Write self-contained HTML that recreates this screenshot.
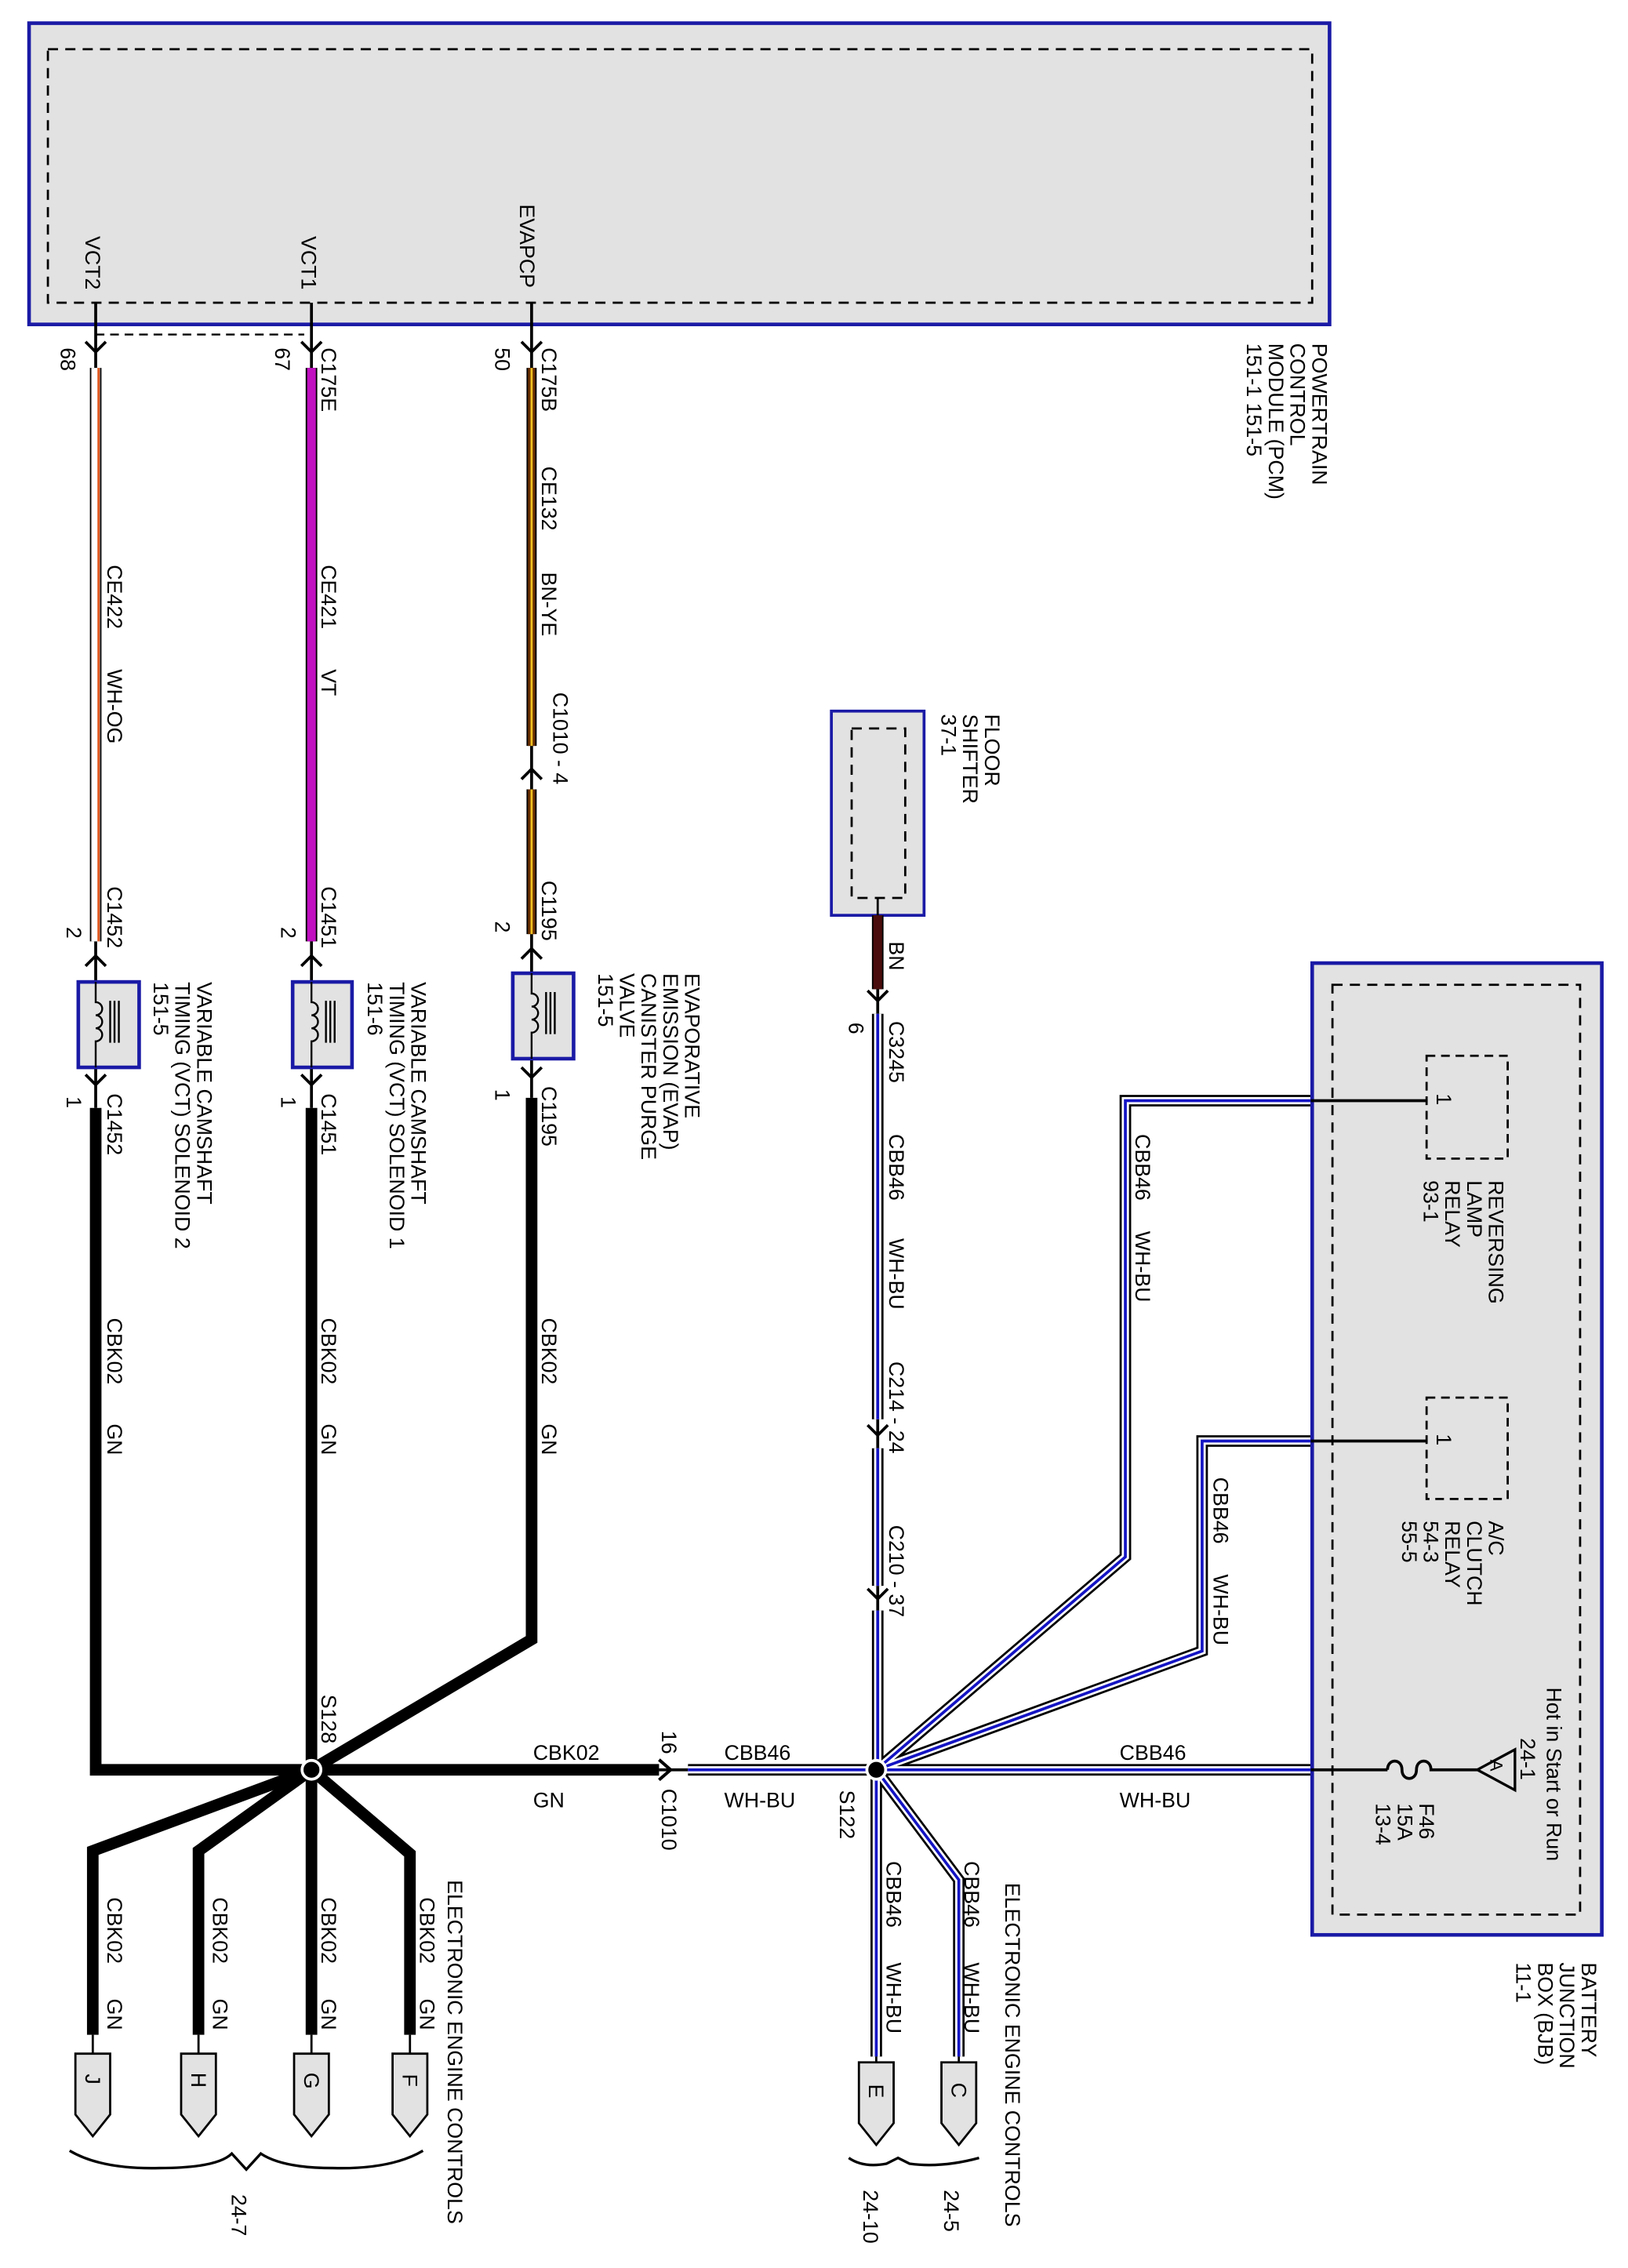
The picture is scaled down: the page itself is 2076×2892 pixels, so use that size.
<!DOCTYPE html>
<html><head><meta charset="utf-8"><style>
html,body{margin:0;padding:0;background:#fff;}
svg{display:block;}
text{font-family:"Liberation Sans",Arial,sans-serif;font-size:14.5px;fill:#000;}
</style></head><body>
<svg width="2076" height="2892" viewBox="0 0 1124 1566" xmlns="http://www.w3.org/2000/svg">
<rect width="1124" height="1566" fill="#fff"/>
<!-- PCM -->
<rect x="20" y="16" width="898" height="208" fill="#e2e2e2" stroke="#1a1aa6" stroke-width="2.5"/>
<rect x="33" y="34" width="873" height="175" fill="none" stroke="#000" stroke-width="1.5" stroke-dasharray="7,5"/>
<g transform="translate(906,237) rotate(90)"><text>POWERTRAIN<tspan x="0" dy="15">CONTROL</tspan><tspan x="0" dy="15">MODULE (PCM)</tspan><tspan x="0" dy="15">151-1    151-5</tspan></text></g>
<text transform="translate(59,163) rotate(90)">VCT2</text>
<text transform="translate(208,163) rotate(90)">VCT1</text>
<text transform="translate(359,141) rotate(90)">EVAPCP</text>
<line x1="66" y1="231" x2="210" y2="231" stroke="#000" stroke-width="1.3" stroke-dasharray="6,4"/>
<g stroke="#000" stroke-width="2" fill="none">
<path d="M66 209V254M215 209V254M367 209V254"/>
<path d="M59 236L66 243L73 236M208 236L215 243L222 236M360 236L367 243L374 236"/>
<path d="M66 650V678M215 650V678M367 645V672"/>
<path d="M59 667L66 660L73 667M208 667L215 660L222 667M360 662L367 655L374 662"/>
<path d="M66 737V765M215 737V765M367 731V758"/>
<path d="M59 742L66 749L73 742M208 742L215 749L222 742M360 737L367 744L374 737"/>
<path d="M367 515V545M360 538L367 531L374 538"/>
</g>
<text transform="translate(42,240) rotate(90)">68</text>
<text transform="translate(190,240) rotate(90)">67</text>
<text transform="translate(342,240) rotate(90)">50</text>
<text transform="translate(222,240) rotate(90)">C175E</text>
<text transform="translate(374,240) rotate(90)">C175B</text>
<line x1="66" y1="254" x2="66" y2="650" stroke="#000" stroke-width="8"/>
<line x1="66" y1="254" x2="66" y2="650" stroke="#fff" stroke-width="6"/>
<line x1="68" y1="254" x2="68" y2="650" stroke="#e05a20" stroke-width="1.6"/>
<line x1="215" y1="254" x2="215" y2="650" stroke="#000" stroke-width="8"/>
<line x1="215" y1="254" x2="215" y2="650" stroke="#c010c0" stroke-width="6"/>
<g><line x1="367" y1="254" x2="367" y2="515" stroke="#000" stroke-width="7"/>
<line x1="367" y1="254" x2="367" y2="515" stroke="#6a3000" stroke-width="5"/>
<line x1="367" y1="254" x2="367" y2="515" stroke="#f0c020" stroke-width="1.5"/>
<line x1="367" y1="545" x2="367" y2="645" stroke="#000" stroke-width="7"/>
<line x1="367" y1="545" x2="367" y2="645" stroke="#6a3000" stroke-width="5"/>
<line x1="367" y1="545" x2="367" y2="645" stroke="#f0c020" stroke-width="1.5"/></g>
<text transform="translate(74,390) rotate(90)">CE422</text>
<text transform="translate(74,462) rotate(90)">WH-OG</text>
<text transform="translate(222,390) rotate(90)">CE421</text>
<text transform="translate(222,462) rotate(90)">VT</text>
<text transform="translate(374,322) rotate(90)">CE132</text>
<text transform="translate(374,395) rotate(90)">BN-YE</text>
<text transform="translate(382,478) rotate(90)">C1010  - 4</text>
<text transform="translate(74,612) rotate(90)">C1452</text>
<text transform="translate(46,640) rotate(90)">2</text>
<text transform="translate(222,612) rotate(90)">C1451</text>
<text transform="translate(194,640) rotate(90)">2</text>
<text transform="translate(374,608) rotate(90)">C1195</text>
<text transform="translate(342,636) rotate(90)">2</text>
<g fill="#e2e2e2" stroke="#1a1aa6" stroke-width="2.5">
<rect x="54" y="678" width="42" height="59"/><rect x="202" y="678" width="41" height="59"/><rect x="354" y="672" width="42" height="59"/>
</g>
<g fill="none" stroke="#000" stroke-width="1.3">
<path d="M66 678V692a4.5 4.5 0 0 1 0 9a4.5 4.5 0 0 1 0 9a4.5 4.5 0 0 1 0 9V737M76 691V720M79 691V720M82 691V720"/>
<path d="M215 678V692a4.5 4.5 0 0 1 0 9a4.5 4.5 0 0 1 0 9a4.5 4.5 0 0 1 0 9V737M225 691V720M228 691V720M231 691V720"/>
<path d="M367 672V686a4.5 4.5 0 0 1 0 9a4.5 4.5 0 0 1 0 9a4.5 4.5 0 0 1 0 9V731M377 685V714M380 685V714M383 685V714"/>
</g>
<g transform="translate(136,678) rotate(90)"><text>VARIABLE CAMSHAFT<tspan x="0" dy="15">TIMING (VCT) SOLENOID 2</tspan><tspan x="0" dy="15">151-5</tspan></text></g>
<g transform="translate(284,678) rotate(90)"><text>VARIABLE CAMSHAFT<tspan x="0" dy="15">TIMING (VCT) SOLENOID 1</tspan><tspan x="0" dy="15">151-6</tspan></text></g>
<g transform="translate(473,672) rotate(90)"><text>EVAPORATIVE<tspan x="0" dy="15">EMISSION (EVAP)</tspan><tspan x="0" dy="15">CANISTER PURGE</tspan><tspan x="0" dy="15">VALVE</tspan><tspan x="0" dy="15">151-5</tspan></text></g>
<text transform="translate(46,757) rotate(90)">1</text>
<text transform="translate(74,755) rotate(90)">C1452</text>
<text transform="translate(194,757) rotate(90)">1</text>
<text transform="translate(222,755) rotate(90)">C1451</text>
<text transform="translate(342,752) rotate(90)">1</text>
<text transform="translate(374,750) rotate(90)">C1195</text>
<g fill="none" stroke="#000" stroke-width="8" stroke-linejoin="miter">
<path d="M66 765V1222H215"/>
<path d="M215 765V1222"/>
<path d="M367 758V1132L215 1222"/>
<path d="M215 1222H455"/>
<path d="M215 1222L64 1278V1405"/>
<path d="M215 1222L137 1278V1405"/>
<path d="M215 1222V1405"/>
<path d="M215 1222L283 1280V1405"/>
</g>
<circle cx="215" cy="1222" r="6.5" fill="#000" stroke="#fff" stroke-width="2"/>
<path d="M455 1215L463 1222L455 1229" fill="none" stroke="#000" stroke-width="2.2"/>
<line x1="455" y1="1222" x2="475" y2="1222" stroke="#000" stroke-width="2"/>
<text transform="translate(74,910) rotate(90)">CBK02</text><text transform="translate(74,983) rotate(90)">GN</text>
<text transform="translate(222,910) rotate(90)">CBK02</text><text transform="translate(222,983) rotate(90)">GN</text>
<text transform="translate(374,910) rotate(90)">CBK02</text><text transform="translate(374,983) rotate(90)">GN</text>
<text transform="translate(222,1170) rotate(90)">S128</text>
<text x="368" y="1215">CBK02</text><text x="368" y="1248">GN</text>
<text transform="translate(457,1195) rotate(90)">16</text>
<text transform="translate(457,1235) rotate(90)">C1010</text>
<g stroke="#000" stroke-width="1.5"><path d="M64 1405V1418M137 1405V1418M215 1405V1418M283 1405V1418" fill="none"/>
<g fill="#e2e2e2">
<path d="M52 1418H76V1460L64 1475L52 1460Z"/><path d="M125 1418H149V1460L137 1475L125 1460Z"/>
<path d="M203 1418H227V1460L215 1475L203 1460Z"/><path d="M271 1418H295V1460L283 1475L271 1460Z"/>
</g></g>
<text transform="translate(59,1432) rotate(90)">J</text>
<text transform="translate(132,1431) rotate(90)">H</text>
<text transform="translate(210,1431) rotate(90)">G</text>
<text transform="translate(278,1432) rotate(90)">F</text>
<text transform="translate(74,1310) rotate(90)">CBK02</text><text transform="translate(74,1380) rotate(90)">GN</text>
<text transform="translate(147,1310) rotate(90)">CBK02</text><text transform="translate(147,1380) rotate(90)">GN</text>
<text transform="translate(222,1310) rotate(90)">CBK02</text><text transform="translate(222,1380) rotate(90)">GN</text>
<text transform="translate(290,1310) rotate(90)">CBK02</text><text transform="translate(290,1380) rotate(90)">GN</text>
<text transform="translate(309,1298) rotate(90)">ELECTRONIC ENGINE CONTROLS</text>
<path d="M48 1485Q70 1498 110 1497Q150 1497 160 1487L170 1498L180 1487Q195 1497 230 1497Q270 1498 292 1485" fill="none" stroke="#000" stroke-width="1.8"/>
<text transform="translate(160,1515) rotate(90)">24-7</text>
<rect x="574" y="491" width="64" height="141" fill="#e2e2e2" stroke="#1a1aa6" stroke-width="2"/>
<rect x="588" y="503" width="37" height="117" fill="none" stroke="#000" stroke-width="1.5" stroke-dasharray="7,5"/>
<g transform="translate(680,493) rotate(90)"><text>FLOOR<tspan x="0" dy="15">SHIFTER</tspan><tspan x="0" dy="15">37-1</tspan></text></g>
<line x1="606" y1="620" x2="606" y2="632" stroke="#000" stroke-width="1.5"/>
<line x1="606" y1="632" x2="606" y2="683" stroke="#000" stroke-width="8"/>
<line x1="606" y1="632" x2="606" y2="683" stroke="#4a0c0c" stroke-width="6"/>
<g stroke="#000" stroke-width="2" fill="none">
<path d="M606 683V700M599 684L606 691L613 684"/>
<path d="M606 980V1000M599 984L606 991L613 984"/>
<path d="M606 1095V1112M599 1097L606 1104L613 1097"/>
</g>
<text transform="translate(614,650) rotate(90)">BN</text>
<text transform="translate(586,706) rotate(90)">6</text>
<text transform="translate(614,705) rotate(90)">C3245</text>
<text transform="translate(614,783) rotate(90)">CBB46</text><text transform="translate(614,855) rotate(90)">WH-BU</text>
<text transform="translate(614,940) rotate(90)">C214  -  24</text>
<text transform="translate(614,1053) rotate(90)">C210  -  37</text>
<g fill="none" stroke-linejoin="miter">
<g stroke="#000" stroke-width="8">
<path d="M606 700V980M606 1000V1095M606 1112V1222M475 1222H905M605 1222L777 1075V760H905M605 1222L830 1140V995H905M605 1222V1420M605 1222L662 1298V1420"/></g>
<g stroke="#fff" stroke-width="5">
<path d="M606 700V980M606 1000V1095M606 1112V1222M475 1222H905M605 1222L777 1075V760H905M605 1222L830 1140V995H905M605 1222V1420M605 1222L662 1298V1420"/></g>
<g stroke="#1414c4" stroke-width="2">
<path d="M606 700V980M606 1000V1095M606 1112V1222M475 1222H905M605 1222L777 1075V760H905M605 1222L830 1140V995H905M605 1222V1420M605 1222L662 1298V1420"/></g>
</g>
<circle cx="605" cy="1222" r="6.5" fill="#000" stroke="#fff" stroke-width="2"/>
<text x="500" y="1215">CBB46</text><text x="500" y="1248">WH-BU</text>
<text transform="translate(580,1236) rotate(90)">S122</text>
<text x="773" y="1215">CBB46</text><text x="773" y="1248">WH-BU</text>
<text transform="translate(784,783) rotate(90)">CBB46</text><text transform="translate(784,850) rotate(90)">WH-BU</text>
<text transform="translate(838,1020) rotate(90)">CBB46</text><text transform="translate(838,1087) rotate(90)">WH-BU</text>
<text transform="translate(612,1285) rotate(90)">CBB46</text><text transform="translate(612,1355) rotate(90)">WH-BU</text>
<text transform="translate(666,1285) rotate(90)">CBB46</text><text transform="translate(666,1355) rotate(90)">WH-BU</text>
<g stroke="#000" stroke-width="1.5"><path d="M605 1420V1424M662 1420V1424" fill="none"/>
<g fill="#e2e2e2"><path d="M593 1424H617V1466L605 1481L593 1466Z"/><path d="M650 1424H674V1466L662 1481L650 1466Z"/></g></g>
<text transform="translate(600,1439) rotate(90)">E</text>
<text transform="translate(657,1438) rotate(90)">C</text>
<text transform="translate(694,1300) rotate(90)">ELECTRONIC ENGINE CONTROLS</text>
<path d="M586 1490Q596 1497 612 1494L620 1490L628 1494Q650 1497 676 1490" fill="none" stroke="#000" stroke-width="1.8"/>
<text transform="translate(596,1512) rotate(90)">24-10</text>
<text transform="translate(652,1512) rotate(90)">24-5</text>
<rect x="906" y="665" width="200" height="671" fill="#e2e2e2" stroke="#1a1aa6" stroke-width="2.5"/>
<rect x="920" y="680" width="171" height="642" fill="none" stroke="#000" stroke-width="1.5" stroke-dasharray="7,5"/>
<rect x="985" y="729" width="56" height="71" fill="none" stroke="#000" stroke-width="1.5" stroke-dasharray="6,4"/>
<rect x="985" y="965" width="56" height="70" fill="none" stroke="#000" stroke-width="1.5" stroke-dasharray="6,4"/>
<g stroke="#000" stroke-width="2" fill="none">
<path d="M905 760H985M905 995H985M905 1222H958"/>
<path d="M958 1222c0-8 10-8 10 0s10 8 10 0c0-8 10-8 10 0H1020"/>
<path d="M1020 1222L1046 1208V1236Z" stroke-width="1.8" fill="#e2e2e2"/>
</g>
<text transform="translate(992,755) rotate(90)">1</text>
<text transform="translate(992,990) rotate(90)">1</text>
<text transform="translate(1029,1215) rotate(90)" style="font-size:12px">A</text>
<g transform="translate(1028,815) rotate(90)"><text>REVERSING<tspan x="0" dy="15">LAMP</tspan><tspan x="0" dy="15">RELAY</tspan><tspan x="0" dy="15">93-1</tspan></text></g>
<g transform="translate(1028,1050) rotate(90)"><text>A/C<tspan x="0" dy="15">CLUTCH</tspan><tspan x="0" dy="15">RELAY</tspan><tspan x="0" dy="15">54-3</tspan><tspan x="0" dy="15">55-5</tspan></text></g>
<text transform="translate(1068,1165) rotate(90)">Hot in Start or Run</text>
<text transform="translate(1050,1200) rotate(90)">24-1</text>
<g transform="translate(980,1245) rotate(90)"><text>F46<tspan x="0" dy="15">15A</tspan><tspan x="0" dy="15">13-4</tspan></text></g>
<g transform="translate(1092,1355) rotate(90)"><text>BATTERY<tspan x="0" dy="15">JUNCTION</tspan><tspan x="0" dy="15">BOX (BJB)</tspan><tspan x="0" dy="15">11-1</tspan></text></g>
</svg>
</body></html>
